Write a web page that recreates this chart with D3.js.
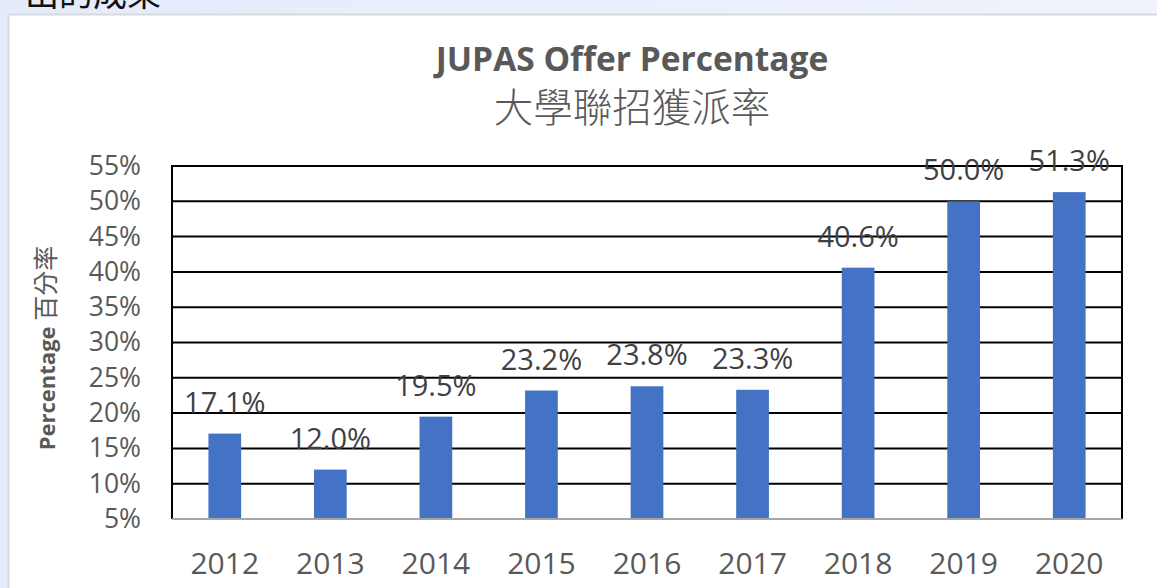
<!DOCTYPE html>
<html>
<head>
<meta charset="utf-8">
<script src="https://cdn.jsdelivr.net/npm/d3@7"></script>
<style>
  html, body { margin: 0; padding: 0; background: #fff; }
  svg { display: block; }
</style>
</head>
<body>
<div id="chart"></div>
<script>
// data
const years = ['2012', '2013', '2014', '2015', '2016', '2017', '2018', '2019', '2020'];
const offerRates = [17.1, 12.0, 19.5, 23.2, 23.8, 23.3, 40.6, 50.0, 51.3];
const yTicks = [5, 10, 15, 20, 25, 30, 35, 40, 45, 50, 55];

const W = 1157, H = 588;
const plot = { left: 172, right: 1122, top: 166, bottom: 519 };

const svg = d3.select('#chart').append('svg')
  .attr('width', W).attr('height', H);

// page background
const defs = svg.append('defs');
const grad = defs.append('linearGradient').attr('id', 'bg')
  .attr('x1', 0).attr('y1', 0).attr('x2', 1).attr('y2', 0);
grad.append('stop').attr('offset', 0).attr('stop-color', '#e4ebfb');
grad.append('stop').attr('offset', 1).attr('stop-color', '#eef3fd');
svg.append('rect').attr('width', W).attr('height', H).attr('fill', 'url(#bg)');

// heading cut off at top
svg.append('text')
  .attr('x', 25).attr('y', 6)
  .attr('font-family', 'Noto Sans CJK TC')
  .attr('font-size', 34)
  .attr('fill', '#111')
  .text('出的成果');

// chart card
svg.append('rect')
  .attr('x', 8.5).attr('y', 14.5)
  .attr('width', W).attr('height', H)
  .attr('fill', '#fff')
  .attr('stroke', '#d9d9d9').attr('stroke-width', 2);

// scales
const x = d3.scaleBand()
  .domain(years)
  .range([plot.left, plot.right])
  .paddingInner(0.69).paddingOuter(0.345);

const y = d3.scaleLinear()
  .domain([5, 55])
  .range([plot.bottom, plot.top]);

// gridlines
svg.append('g')
  .selectAll('line')
  .data(yTicks.filter(t => t > 5))
  .join('line')
  .attr('x1', plot.left).attr('x2', plot.right)
  .attr('y1', d => y(d)).attr('y2', d => y(d))
  .attr('stroke', '#000').attr('stroke-width', 2);

// frame
svg.append('path')
  .attr('d', `M${plot.left},${plot.bottom}V${plot.top}H${plot.right}V${plot.bottom}`)
  .attr('fill', 'none').attr('stroke', '#000').attr('stroke-width', 2);

// y axis labels
const yAxis = svg.append('g')
  .attr('transform', `translate(${plot.left - 31},0)`)
  .call(d3.axisLeft(y).tickValues(yTicks).tickSize(0).tickPadding(0).tickFormat(d => d + '%'));
yAxis.select('.domain').remove();
yAxis.selectAll('text')
  .attr('font-family', 'Open Sans, sans-serif')
  .attr('font-size', 26.5)
  .attr('fill', '#595959');

// bars
svg.append('g')
  .selectAll('rect')
  .data(offerRates)
  .join('rect')
  .attr('x', (d, i) => x(years[i]))
  .attr('y', d => y(d))
  .attr('width', x.bandwidth())
  .attr('height', d => y(5) - y(d))
  .attr('fill', '#4472c4');

// bottom axis line
svg.append('line')
  .attr('x1', plot.left).attr('x2', plot.right)
  .attr('y1', plot.bottom).attr('y2', plot.bottom)
  .attr('stroke', '#a6a6a6').attr('stroke-width', 2);

// value labels
svg.append('g')
  .selectAll('text')
  .data(offerRates)
  .join('text')
  .attr('x', (d, i) => x(years[i]) + x.bandwidth() / 2)
  .attr('y', d => y(d) - 21)
  .attr('text-anchor', 'middle')
  .attr('font-family', 'Open Sans, sans-serif')
  .attr('font-size', 29)
  .attr('fill', '#404040')
  .text(d => d.toFixed(1) + '%');

// x axis labels
const xAxis = svg.append('g')
  .attr('transform', `translate(0,${plot.bottom + 34})`)
  .call(d3.axisBottom(x).tickSize(0).tickPadding(0));
xAxis.select('.domain').remove();
xAxis.selectAll('text')
  .attr('font-family', 'Open Sans, sans-serif')
  .attr('font-size', 30)
  .attr('fill', '#595959');

// titles
svg.append('text')
  .attr('x', 632).attr('y', 71)
  .attr('text-anchor', 'middle')
  .attr('font-family', 'Open Sans, sans-serif')
  .attr('font-weight', 'bold')
  .attr('font-size', 33.5)
  .attr('fill', '#595959')
  .text('JUPAS Offer Percentage');

svg.append('text')
  .attr('x', 632).attr('y', 122)
  .attr('text-anchor', 'middle')
  .attr('font-family', 'Noto Sans CJK TC')
  .attr('font-weight', 300)
  .attr('font-size', 39.5)
  .attr('fill', '#595959')
  .text('大學聯招獲派率');

// y axis title
const yt = svg.append('text')
  .attr('transform', `translate(55,348) rotate(-90)`)
  .attr('text-anchor', 'middle')
  .attr('fill', '#595959');
yt.append('tspan')
  .attr('font-family', 'Open Sans, sans-serif')
  .attr('font-weight', 'bold')
  .attr('font-size', 22)
  .text('Percentage ');
yt.append('tspan')
  .attr('font-family', 'Noto Sans CJK TC')
  .attr('font-size', 25)
  .text('百分率');
</script>
</body>
</html>
